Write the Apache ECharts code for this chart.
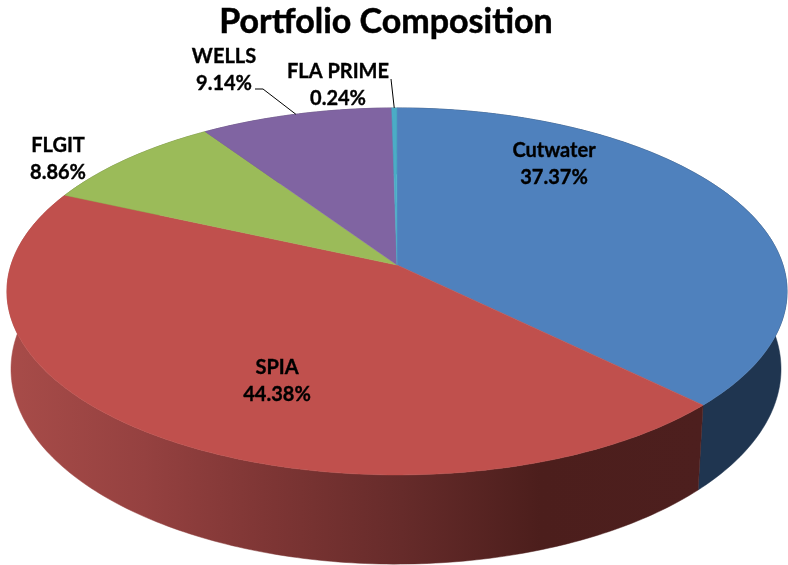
<!DOCTYPE html>
<html><head><meta charset="utf-8">
<style>html,body{margin:0;padding:0;background:#fff}#c{width:788px;height:565px}</style>
<script src="https://cdn.jsdelivr.net/npm/echarts@6/dist/echarts.min.js"></script>
</head><body><div id="c"></div>
<script>
const categories = ['Cutwater', 'SPIA', 'FLGIT', 'WELLS', 'FLA PRIME'];
const shares = [37.37, 44.38, 8.86, 9.14, 0.24];
const topColors = ['#4f81bd', '#c0504d', '#9bbb59', '#8064a2', '#4bacc6'];
const chartTitle = 'Portfolio Composition';
const labelCentres = [[554, 164], [277, 381], [58, 159], [224, 70], [338, 85]];
const leaderStarts = [null, null, null, [[255, 89], [263, 89]], [[391, 79]]];

// projection of the tilted disc: upper rim and lower rim
const upper = { cx: 397, cy: 265, a: 386, b: 179.7, k: 0.144 };
const lower = { cx: 396, cy: 341, a: 381, b: 191, k: 0.144 };
function rim(p, pct) {
  const t = pct / 100 * 2 * Math.PI, X = Math.sin(t), Y = -Math.cos(t), w = 1 - p.k * Y;
  return [p.cx + p.a * X / w, p.cy + p.b * Y / w];
}
const starts = [];
shares.reduce((s, v, i) => (starts[i] = s, s + v), 0);
function arc(p, from, to) {
  const n = Math.max(2, Math.ceil((to - from) * 4)), pts = [];
  for (let i = 0; i <= n; i++) pts.push(rim(p, from + (to - from) * i / n));
  return pts;
}
const wallFills = [
  '#1f3550',
  new echarts.graphic.LinearGradient(6, 0, 700, 0, [
    { offset: 0, color: '#a84c49' }, { offset: 0.2, color: '#954140' },
    { offset: 0.37, color: '#7f3635' }, { offset: 0.57, color: '#662b2a' },
    { offset: 0.77, color: '#4c1e1c' }, { offset: 1, color: '#4d1f1e' }
  ], true),
  '#5d7033', '#4c3c61', '#2c6676'
];
const idx = categories.map((_, i) => i);
function wallItem(params, api) {
  const i = api.value(0), from = starts[i], to = from + shares[i];
  const pts = arc(upper, from, to).concat(arc(lower, from, to).reverse());
  return { type: 'polygon', shape: { points: pts }, style: { fill: wallFills[i], stroke: wallFills[i], lineWidth: 0.5 } };
}
function topItem(params, api) {
  const i = api.value(0), from = starts[i], to = from + shares[i];
  const pts = [[upper.cx, upper.cy]].concat(arc(upper, from, to));
  return { type: 'polygon', shape: { points: pts }, style: { fill: topColors[i], stroke: topColors[i], lineWidth: 0.5 } };
}
function labelItem(params, api) {
  const i = api.value(0), c = labelCentres[i], children = [];
  if (leaderStarts[i]) {
    children.push({ type: 'polyline',
      shape: { points: leaderStarts[i].concat([rim(upper, starts[i] + shares[i] / 2)]) },
      style: { fill: null, stroke: '#000', lineWidth: 1 } });
  }
  children.push({ type: 'text', x: c[0], y: c[1], style: {
    text: categories[i] + '\n' + shares[i].toFixed(2) + '%',
    fill: '#000', stroke: '#000', lineWidth: 0.35, font: '700 20px Lato', lineHeight: 27, align: 'center', verticalAlign: 'middle' } });
  return { type: 'group', children };
}
const chart = echarts.init(document.getElementById('c'), null, { renderer: 'canvas' });
chart.setOption({
  animation: false,
  backgroundColor: '#fff',
  title: { text: chartTitle, left: 381, top: 0, textAlign: 'center',
    textStyle: { fontFamily: 'Lato', fontWeight: 700, fontSize: 34, color: '#000', textBorderColor: '#000', textBorderWidth: 0.5 } },
  series: [
    { type: 'custom', coordinateSystem: 'none', z: 1, data: idx.map(i => [i]), renderItem: wallItem, silent: true, clip: false },
    { type: 'custom', coordinateSystem: 'none', z: 2, data: idx.map(i => [i]), renderItem: topItem, silent: true, clip: false },
    { type: 'custom', coordinateSystem: 'none', z: 3, data: idx.map(i => [i]), renderItem: labelItem, silent: true, clip: false }
  ]
});
</script></body></html>
